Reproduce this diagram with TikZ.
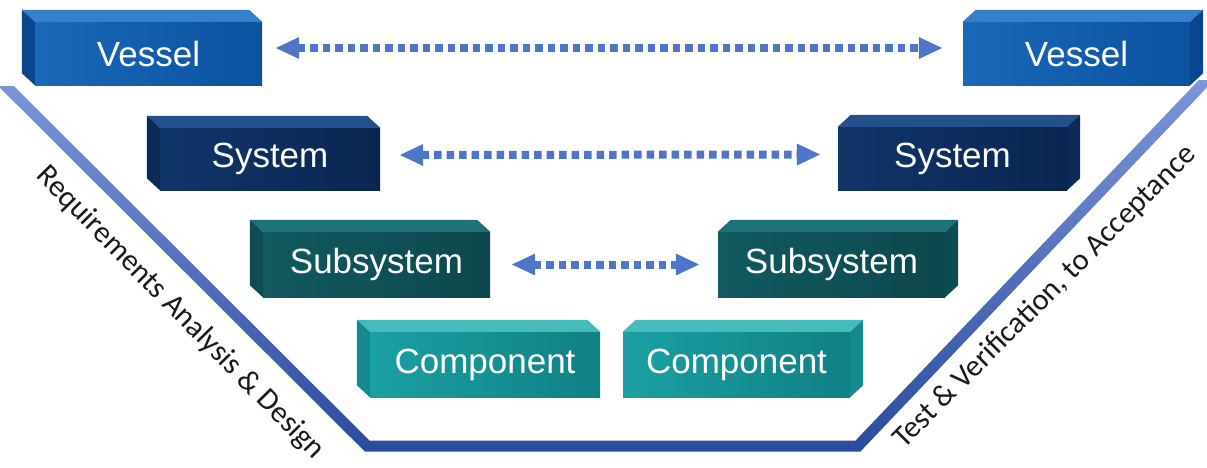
\documentclass[tikz,border=0pt]{standalone}
\usepackage{fontspec}
\newfontfamily\boxfont{Liberation Sans}
\newfontfamily\sidefont{Carlito}
\usetikzlibrary{arrows.meta,calc}

% palettes: A/B = front face left/right, T = top face, S = side face
\definecolor{vesA}{RGB}{26,104,184}
\definecolor{vesB}{RGB}{11,82,159}
\definecolor{vesT}{RGB}{52,128,204}
\definecolor{vesS}{RGB}{10,70,144}
\definecolor{sysA}{RGB}{16,53,106}
\definecolor{sysB}{RGB}{10,37,80}
\definecolor{sysT}{RGB}{35,79,138}
\definecolor{sysS}{RGB}{11,42,88}
\definecolor{subA}{RGB}{17,90,96}
\definecolor{subB}{RGB}{12,71,77}
\definecolor{subT}{RGB}{31,114,120}
\definecolor{subS}{RGB}{13,76,82}
\definecolor{comA}{RGB}{27,160,162}
\definecolor{comB}{RGB}{16,128,132}
\definecolor{comT}{RGB}{69,188,188}
\definecolor{comS}{RGB}{19,138,141}
\definecolor{linkblue}{RGB}{78,118,200}
\definecolor{vtop}{RGB}{125,150,218}
\definecolor{vbot}{RGB}{42,76,156}

\tikzset{
  face/.style={inner sep=0pt, text=white, font=\boxfont\fontsize{35}{40}\selectfont},
  sidetext/.style={inner sep=0pt, text=black!90, font=\sidefont\fontsize{30.5}{34}\selectfont},
  dotlink/.style={linkblue, line width=8pt, dash pattern=on 7.5pt off 5pt,
    {Triangle[length=24pt,width=20pt]}-{Triangle[length=24pt,width=20pt]}},
}

% block with its depth to the upper left: name, centre, width, height, palette, text
\newcommand\slableft[6]{%
  \node[face, minimum width=#3pt, minimum height=#4pt, left color=#5A, right color=#5B] (#1) at (#2) {#6};
  \fill[#5T] (#1.north west) -- ++(-13,-12) -- ($(#1.north east)+(-13,-12)$) -- (#1.north east) -- cycle;
  \fill[#5S] (#1.north west) -- ++(-13,-12) -- ($(#1.south west)+(-13,-12)$) -- (#1.south west) -- cycle;
}
% block with its depth to the upper right
\newcommand\slabright[6]{%
  \node[face, minimum width=#3pt, minimum height=#4pt, left color=#5A, right color=#5B] (#1) at (#2) {#6};
  \fill[#5T] (#1.north west) -- ++(13,-12) -- ($(#1.north east)+(13,-12)$) -- (#1.north east) -- cycle;
  \fill[#5S] (#1.north east) -- ++(13,-12) -- ($(#1.south east)+(13,-12)$) -- (#1.south east) -- cycle;
}

\begin{document}
\begin{tikzpicture}[x=1pt, y=-1pt]
  \useasboundingbox (0,0) rectangle (1207,467);
  \clip (0,0) rectangle (1207,467);
  \fill[white] (0,0) rectangle (1207,467);

  % the V-shaped process band
  \shade[top color=vtop, bottom color=vbot]
    (-1.8,86) -- (364.8,451.5) -- (860.4,451.5) -- (1214,80)
    -- (1198.8,80) -- (855.6,440.5) -- (369.4,440.5) -- (13.8,86) -- cycle;

  % left leg
  \slableft{vesL}{148.5,53.5}{227}{63}{ves}{Vessel}
  \slableft{sysL}{270,159}{220}{62}{sys}{System}
  \slableft{subL}{376.5,264.5}{227}{65}{sub}{Subsystem}
  \slableft{comL}{485,364.5}{230}{65}{com}{Component}
  % right leg
  \slabright{vesR}{1076.5,53.5}{227}{63}{ves}{Vessel}
  \slabright{sysR}{952.5,158.5}{229}{63}{sys}{System}
  \slabright{subR}{831.5,264.5}{227}{65}{sub}{Subsystem}
  \slabright{comR}{736.5,364.5}{227}{65}{com}{Component}

  % level-to-level links
  \draw[dotlink, shorten <=13pt, shorten >=20pt] ([yshift=5.5pt]vesL.east) -- ([yshift=5.5pt]vesR.west);
  \draw[dotlink, shorten <=19pt, shorten >=17pt] ([yshift=4pt]sysL.east) -- ([yshift=4pt]sysR.west);
  \draw[dotlink, shorten <=21pt, shorten >=18pt] (subL.east) -- (subR.west);

  % leg captions
  \node[sidetext, rotate=-45.5] (req) at (180,313) {Requirements Analysis \& Design};
  \node[sidetext, rotate=45] (tva) at (1045,297) {Test \& Verification, to Acceptance};
\end{tikzpicture}
\end{document}
